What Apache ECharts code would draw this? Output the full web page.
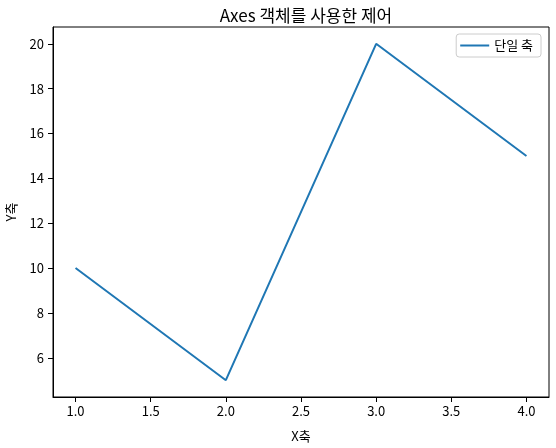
<!DOCTYPE html>
<html><head><meta charset="utf-8">
<script src="https://cdn.jsdelivr.net/npm/echarts@6/dist/echarts.min.js"></script>
<style>html,body{margin:0;padding:0;background:#fff}#c{width:556px;height:448px}</style>
</head><body><div id="c"></div>
<script>
const xValues = [1, 2, 3, 4];
const yValues = [10, 5, 20, 15];
const xTicks = [1, 1.5, 2, 2.5, 3, 3.5, 4];
const yTicks = [6, 8, 10, 12, 14, 16, 18, 20];
const seriesName = '단일 축';
const titleText = 'Axes 객체를 사용한 제어';
const xName = 'X축';
const yName = 'Y축';

const FONT = '"Noto Sans CJK KR", "DejaVu Sans", sans-serif';
const chart = echarts.init(document.getElementById('c'), null, {renderer: 'canvas'});
const axisCommon = {
  axisLine: {show: true, onZero: false, lineStyle: {color: '#000', width: 1}},
  splitLine: {show: false},
  nameTextStyle: {color: '#000', fontSize: 13, fontFamily: FONT},
};
chart.setOption({
  animation: false,
  backgroundColor: '#fff',
  title: {text: titleText, left: 301, top: 2, textAlign: 'center',
    textStyle: {fontSize: 17, fontWeight: 'normal', color: '#000', fontFamily: FONT}},
  grid: {left: 53, right: 7, top: 27, bottom: 51, show: true, borderColor: '#000', borderWidth: 1,
    containLabel: false, outerBoundsMode: 'none'},
  legend: {right: 15, top: 34, orient: 'vertical', backgroundColor: '#fff', borderColor: '#ccc', borderWidth: 1, borderRadius: 3,
    padding: [5, 8, 5, 4], itemWidth: 29, itemHeight: 12, itemGap: 6,
    textStyle: {fontSize: 13, color: '#000', fontFamily: FONT}, data: [{name: seriesName, icon: 'path://M0,5 L29,5 L29,7 L0,7 Z'}]},
  xAxis: Object.assign({}, axisCommon, {
    type: 'value', min: 0.85, max: 4.15, name: xName, nameLocation: 'middle', nameGap: 33,
    axisTick: {show: true, customValues: xTicks, length: 5, lineStyle: {color: '#000'}},
    axisLabel: {customValues: xTicks, color: '#000', fontSize: 13, fontFamily: FONT, margin: 8,
      formatter: v => v.toFixed(1)}
  }),
  yAxis: Object.assign({}, axisCommon, {
    type: 'value', min: 4.25, max: 20.75, name: yName, nameLocation: 'middle', nameGap: 35,
    axisTick: {show: true, customValues: yTicks, length: 5, lineStyle: {color: '#000'}},
    axisLabel: {customValues: yTicks, color: '#000', fontSize: 13, fontFamily: FONT, margin: 9}
  }),
  series: [{
    name: seriesName, type: 'line', data: xValues.map((x, i) => [x, yValues[i]]),
    symbol: 'none', lineStyle: {color: '#1f77b4', width: 2}, itemStyle: {color: '#1f77b4'}
  }]
});
</script></body></html>
